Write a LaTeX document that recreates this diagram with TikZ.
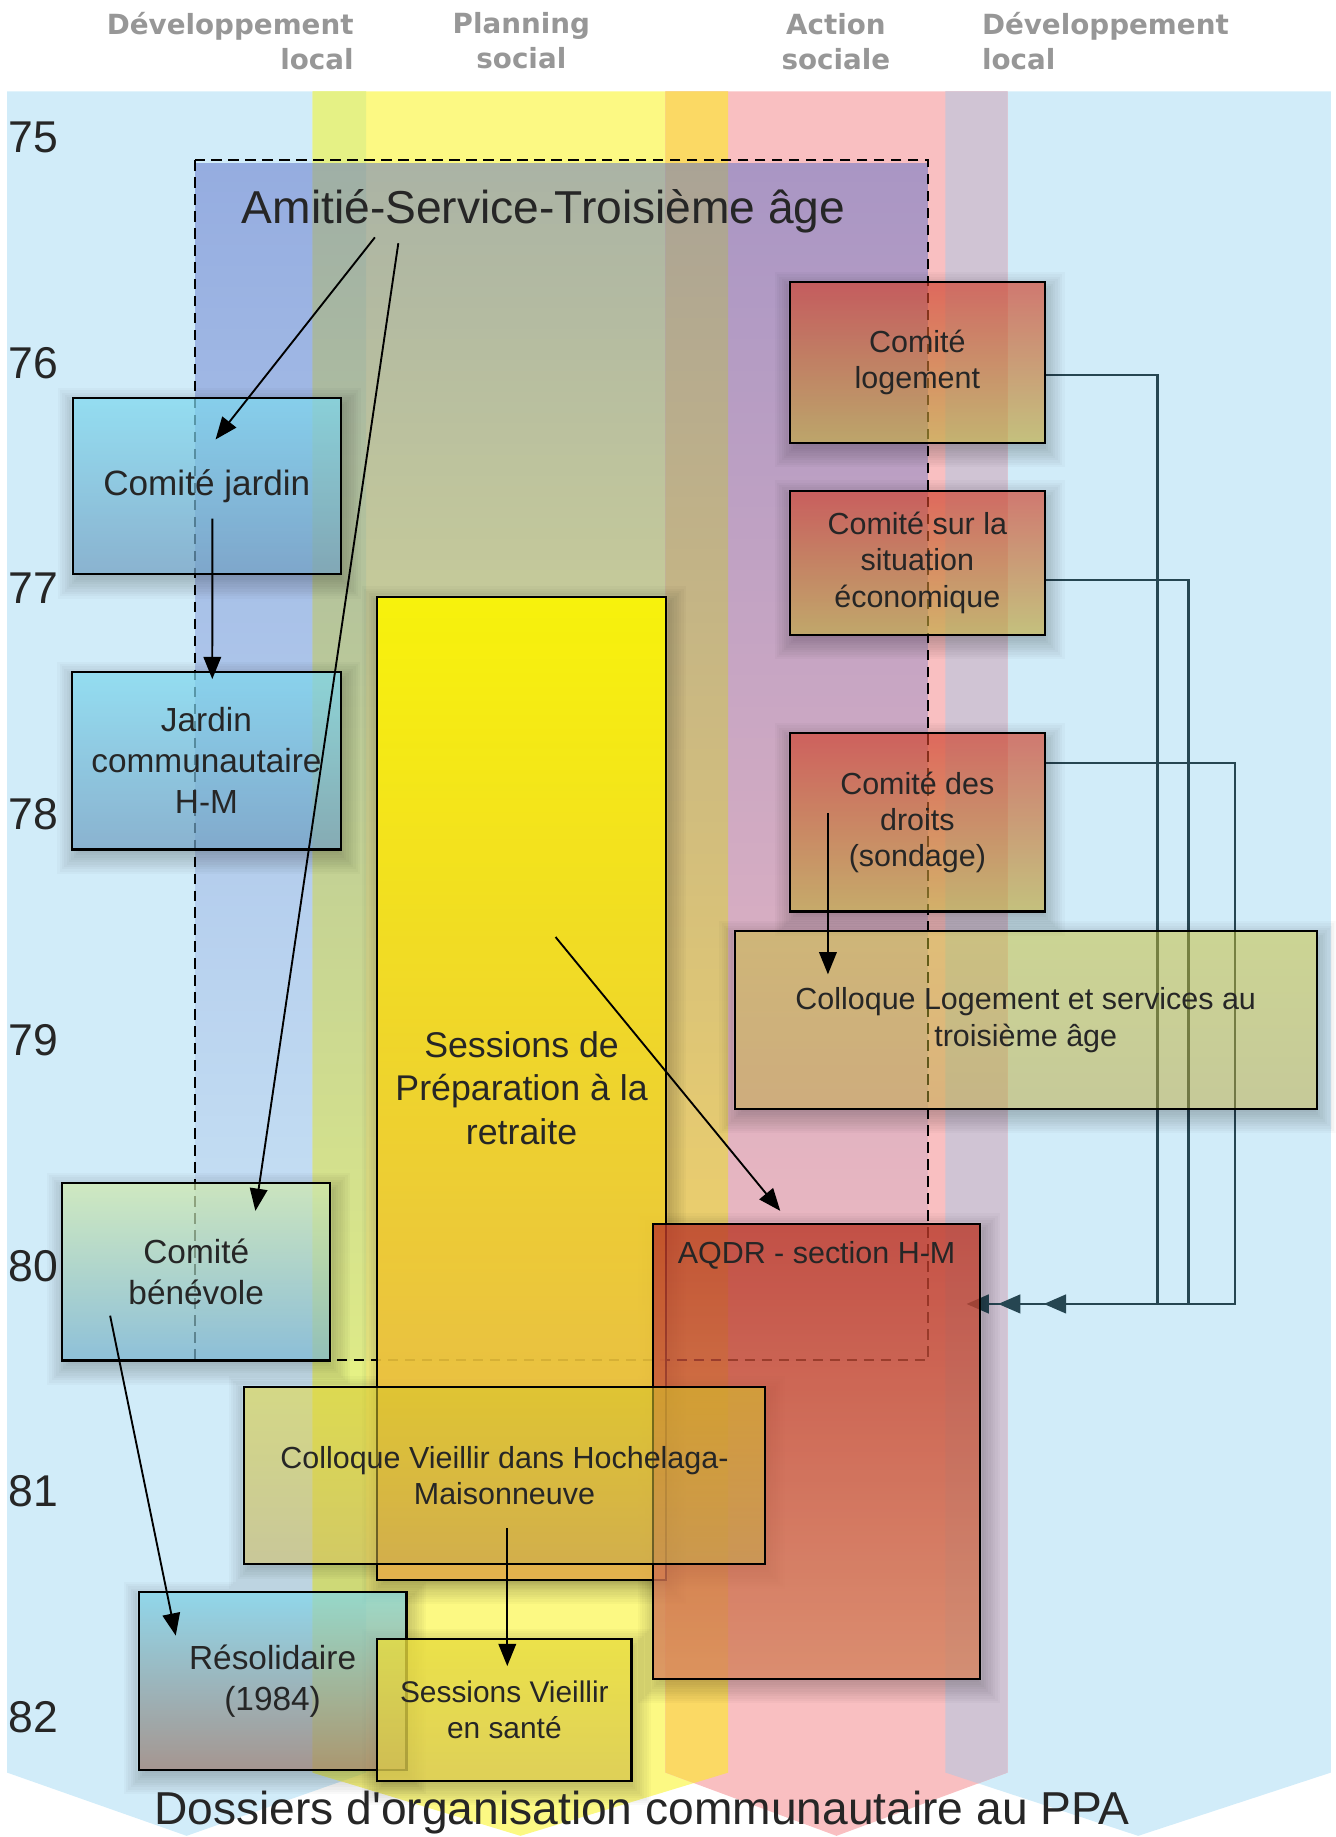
\documentclass[tikz,border=0pt]{standalone}
\usepackage{fontspec}
\setmainfont{Liberation Sans}
\newfontfamily\headfont{DejaVu Sans}
\usepackage{tikz}
\usetikzlibrary{arrows.meta,calc,fadings}
\pgfdeclarelayer{bands}
\pgfdeclarelayer{links}
\pgfsetlayers{bands,links,main}
\definecolor{bandblue}{HTML}{D1ECF9}
\definecolor{bandyellow}{HTML}{FCF983}
\definecolor{bandpink}{HTML}{F9BFC1}
\definecolor{bandgreen}{HTML}{E5F185}
\definecolor{bandorange}{HTML}{FBD964}
\definecolor{bandlavender}{HTML}{D0C4D4}
\definecolor{headgray}{HTML}{979797}
\definecolor{inkdark}{HTML}{262626}
\definecolor{slate}{HTML}{264652}
\definecolor{amitieblue}{HTML}{5A6EC8}
\definecolor{jardintop}{HTML}{7DD8EE}
\definecolor{jardinbot}{HTML}{6F9DC0}
\definecolor{benevoletop}{HTML}{CFE8AB}
\definecolor{benevolebot}{HTML}{75B0CD}
\definecolor{resoltop}{HTML}{79CFE5}
\definecolor{resolbot}{HTML}{957568}
\definecolor{preptop}{HTML}{FCF600}
\definecolor{prepbot}{HTML}{E4AF4B}
\definecolor{vieillirtop}{HTML}{D7C828}
\definecolor{vieillirbot}{HTML}{C3AA4B}
\definecolor{santetop}{HTML}{E8DC3C}
\definecolor{santebot}{HTML}{D7C64E}
\definecolor{aqdrtop}{HTML}{B93728}
\definecolor{aqdrbot}{HTML}{D4825C}
\definecolor{comitered}{HTML}{D03C28}
\definecolor{comiteolive}{HTML}{BEAA3C}
\definecolor{logtop}{HTML}{C8BE30}
\definecolor{logbot}{HTML}{BCA83A}
\tikzfading[name=amitiefade, top color=transparent!0, bottom color=transparent!90]
\newcommand{\bandpath}[2]{(#1,78) -- (#2,78) -- (#2,1513) -- ({(#1+#2)/2},1567) -- (#1,1513) -- cycle}

\begin{document}
\begin{tikzpicture}[
  x=1pt,
  y=-1pt,
  box/.style={draw=black, line width=1.8pt, inner sep=2pt, align=center,
    text=inkdark, fill opacity=0.72, text opacity=1,
    font=\fontsize{26}{31}\selectfont},
  leftbox/.style={box, minimum width=229, minimum height=150,
    font=\fontsize{28.5}{35}\selectfont},
  comitebox/.style={box, minimum width=218, fill opacity=0.65,
    top color=comitered, bottom color=comiteolive},
  colhead/.style={font=\headfont\bfseries\fontsize{23.7}{30}\selectfont, text=headgray, inner sep=0pt},
  yearlabel/.style={font=\fontsize{38}{38}\selectfont, text=inkdark, inner sep=0pt, anchor=west},
  softshadow/.style={fill=black, fill opacity=0.024},
  flow/.style={-{Triangle[length=19pt,width=15pt]}, draw=black, line width=1.6pt},
  link/.style={-{Triangle[length=19pt,width=16pt]}, draw=slate, line width=1.9pt}
]
\useasboundingbox (0,0) rectangle (1140,1568);

\begin{pgfonlayer}{bands}
\fill[bandblue] \bandpath{6}{312.6};
\fill[bandblue] \bandpath{807}{1136};
\fill[bandyellow] \bandpath{266.8}{621.6};
\fill[bandpink] \bandpath{568}{860};
\begin{scope}
  \clip \bandpath{6}{312.6};
  \fill[bandgreen] \bandpath{266.8}{621.6};
\end{scope}
\begin{scope}
  \clip \bandpath{266.8}{621.6};
  \fill[bandorange] \bandpath{568}{860};
\end{scope}
\begin{scope}
  \clip \bandpath{568}{860};
  \fill[bandlavender] \bandpath{807}{1136};
\end{scope}

\node[colhead, anchor=north east, align=right] (headlocalleft) at (302,10.5) {Développement\\local};
\node[colhead, anchor=north, align=center] (headplanning) at (445,10.5) {Planning\\social};
\node[colhead, anchor=north, align=center] (headaction) at (713.5,11) {Action\\sociale};
\node[colhead, anchor=north west, align=left] (headlocalright) at (838,10.5) {Développement\\local};

\foreach \yr [count=\i from 0] in {75,...,82}
  \node[yearlabel] (year\yr) at (7,{117+192.7*\i}) {\yr};
\end{pgfonlayer}

\coordinate (amitieNW) at (166.5,136.6);
\coordinate (amitieSE) at (792,1161);
\node[font=\fontsize{39.4}{45}\selectfont, text=inkdark, inner sep=0pt, anchor=base]
  (amitie) at (464,190.6) {Amitié-Service-Troisième âge};

\node[leftbox, font=\fontsize{30}{36}\selectfont, top color=jardintop, bottom color=jardinbot]
  (jardin) at (176.5,415) {Comité jardin};
\node[leftbox, minimum height=151.5, top color=jardintop, bottom color=jardinbot]
  (jardincomm) at (176.2,649.3) {Jardin\\communautaire\\H-M};
\node[leftbox, minimum height=151.3, top color=benevoletop, bottom color=benevolebot]
  (benevole) at (167.5,1085.6) {Comité\\bénévole};
\node[leftbox, minimum width=228.5, minimum height=151.6, top color=resoltop, bottom color=resolbot]
  (resolidaire) at (232.7,1434.8) {Résolidaire\\(1984)};

\node[box, minimum width=247, minimum height=839, font=\fontsize{30.5}{37}\selectfont,
  top color=preptop, bottom color=prepbot, fill opacity=0.92]
  (sessionsprep) at (445.2,928.8) {Sessions de\\Préparation à la\\retraite};
\node[box, minimum width=279.5, minimum height=388.5,
  top color=aqdrtop, bottom color=aqdrbot, fill opacity=0.8] (aqdr) at (697,1238.7) {};
\node[font=\fontsize{26}{31}\selectfont, text=inkdark, anchor=base]
  (aqdrlabel) at ($(aqdr.north)+(0,34.5)$) {AQDR - section H-M};
\node[box, minimum width=445, minimum height=151.5,
  top color=vieillirtop, bottom color=vieillirbot, fill opacity=0.55]
  (colloquevieillir) at (430.6,1259.3) {Colloque Vieillir dans Hochelaga-\\Maisonneuve};
\node[box, minimum width=217, minimum height=121, font=\fontsize{25.5}{31}\selectfont,
  top color=santetop, bottom color=santebot, fill opacity=0.8]
  (sante) at (430.5,1459.5) {Sessions Vieillir\\en santé};

\node[comitebox, minimum height=137] (logement) at (783,309.5) {Comité\\logement};
\node[comitebox, minimum height=123] (situation) at (783,480.5) {Comité sur la\\situation\\économique};
\node[comitebox, minimum height=152] (droits) at (783,702) {Comité des\\droits\\(sondage)};
\node[box, minimum width=497, minimum height=151.5,
  top color=logtop, bottom color=logbot, fill opacity=0.5]
  (colloquelog) at (875.5,870.7) {Colloque Logement et services au\\troisième âge};

\begin{pgfonlayer}{links}
\fill[amitieblue, fill opacity=0.5, path fading=amitiefade] (amitieNW) rectangle (amitieSE);
\draw[black, line width=1.8pt, dash pattern=on 9pt off 5.5pt] (amitieNW) rectangle (amitieSE);
\coordinate (aqdrin1) at (891,1113);
\coordinate (aqdrin2) at (852,1113);
\coordinate (aqdrin3) at (825,1113);
\draw[link] ([yshift=-10.5pt]logement.east) -- ++(95,0) |- (aqdrin1);
\draw[link] ([yshift=-14.5pt]situation.east) -- ++(121.6,0) |- (aqdrin2);
\draw[link] ([yshift=51pt]droits.east) -- ++(161,0) |- (aqdrin3);
\foreach \n in {jardin,jardincomm,benevole,resolidaire,sessionsprep,aqdr,
    colloquevieillir,sante,logement,situation,droits,colloquelog} {
  \begin{scope}[even odd rule]
    \clip (0,0) rectangle (1140,1568) (\n.south west) rectangle (\n.north east);
    \foreach \s in {-4,-2,...,14}
      \fill[softshadow] ($(\n.north west)+(2-\s,6-\s)$) rectangle ($(\n.south east)+(2+\s,6+\s)$);
  \end{scope}
}
\end{pgfonlayer}

\draw[flow] ($(amitie.base)+(-144,12)$) -- ($(jardin.north)+(7.5,36)$);
\draw[flow] ($(amitie.base)+(-124,17)$) -- ($(benevole.north)+(50.5,24.5)$);
\draw[flow] ($(jardin.center)+(4.8,27.6)$) -- ($(jardincomm.north)+(5,7)$);
\draw[flow] ($(benevole.center)+(-73.5,37.4)$) -- ($(resolidaire.north)+(-82.7,38)$);
\draw[flow] ($(sessionsprep.center)+(29,-129)$) -- ($(aqdr.north)+(-31,-10)$);
\draw[flow] ($(droits.center)+(-76.3,-8)$) -- ($(colloquelog.north)+(-168.8,37.6)$);
\draw[flow] ($(colloquevieillir.center)+(2.4,45.2)$) -- ($(sante.north)+(2.5,24)$);

\node[font=\fontsize{39.4}{45}\selectfont, text=inkdark, inner sep=0pt, anchor=base]
  (dossiers) at (548,1557.5) {Dossiers d\textquotesingle organisation communautaire au PPA};

\end{tikzpicture}
\end{document}
